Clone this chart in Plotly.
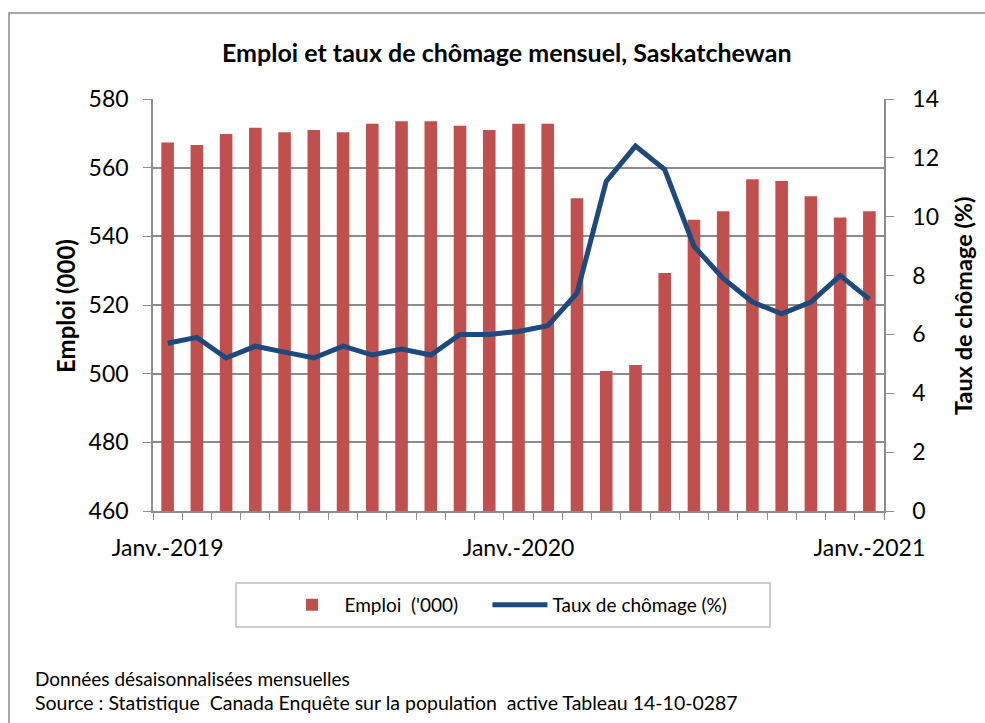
import plotly.graph_objects as go

months = [
    "2019-01", "2019-02", "2019-03", "2019-04", "2019-05", "2019-06", "2019-07",
    "2019-08", "2019-09", "2019-10", "2019-11", "2019-12",
    "2020-01", "2020-02", "2020-03", "2020-04", "2020-05", "2020-06", "2020-07",
    "2020-08", "2020-09", "2020-10", "2020-11", "2020-12",
    "2021-01",
]
emploi = [
    567.3, 566.6, 569.8, 571.6, 570.3, 571.0, 570.3, 572.8, 573.5, 573.5, 572.2, 571.0,
    572.8, 572.8, 551.1, 500.8, 502.5, 529.3, 544.8, 547.3, 556.6, 556.1, 551.7, 545.5,
    547.3,
]
chomage = [
    5.7, 5.9, 5.2, 5.6, 5.4, 5.2, 5.6, 5.3, 5.5, 5.3, 6.0, 6.0,
    6.1, 6.3, 7.4, 11.2, 12.4, 11.6, 9.0, 7.9, 7.1, 6.7, 7.1, 8.0,
    7.2,
]
tick_labels = {"2019-01": "Janv.-2019", "2020-01": "Janv.-2020", "2021-01": "Janv.-2021"}

W, H = 985, 723
L, R, T, B = 153, 884, 99, 511
PW, PH = R - L, B - T


def px(x):
    return (x - L) / PW


def py(y):
    return (B - y) / PH


FONT = "Lato"
GRID = "#8c8c8c"
RED = "#C0504D"
BLUE = "#1F497D"

fig = go.Figure()
fig.add_trace(go.Bar(
    x=months, y=emploi, name="Emploi  ('000)\u00a0\u00a0\u00a0\u00a0\u00a0",
    marker=dict(color=RED, line=dict(width=0)),
    width=0.43, yaxis="y",
))
fig.add_trace(go.Scatter(
    x=months, y=chomage, name="Taux de chômage (%)",
    mode="lines", line=dict(color=BLUE, width=5), yaxis="y2",
))

fig.update_layout(
    width=W, height=H,
    margin=dict(l=L, r=W - R, t=T, b=H - B),
    paper_bgcolor="white", plot_bgcolor="white",
    font=dict(family=FONT, color="black"),
    showlegend=True,
    legend=dict(
        orientation="h", x=px(506), y=py(605), xanchor="center", yanchor="middle",
        font=dict(size=19, family=FONT), bgcolor="rgba(0,0,0,0)",
        itemwidth=55, tracegroupgap=0,
    ),
    xaxis=dict(
        type="category",
        tickmode="array", tickvals=months,
        ticktext=[tick_labels.get(m, "") for m in months],
        tickson="boundaries", ticks="outside", ticklen=7, tickcolor=GRID,
        showline=True, linecolor=GRID, linewidth=1.5,
        showgrid=False, tickfont=dict(size=23, family=FONT),
        ticklabelstandoff=16,
        range=[-0.5, 24.5], tickangle=0,
    ),
    yaxis=dict(
        range=[460, 580], dtick=20, tick0=460,
        ticks="outside", ticklen=8, tickcolor=GRID,
        showline=True, linecolor=GRID, linewidth=1.5,
        showgrid=True, gridcolor=GRID, gridwidth=1.5,
        tickfont=dict(size=23, family=FONT), ticklabelstandoff=10,
        zeroline=False,
    ),
    yaxis2=dict(
        range=[0, 14], dtick=2, tick0=0, overlaying="y", side="right",
        ticks="outside", ticklen=8, tickcolor=GRID,
        showline=True, linecolor=GRID, linewidth=1.5,
        showgrid=False, zeroline=False,
        tickfont=dict(size=23, family=FONT), ticklabelstandoff=14,
    ),
    bargap=0.5,
)

shapes = [
    # outer frame
    dict(type="rect", xref="paper", yref="paper",
         x0=px(9), x1=px(1010), y0=py(13), y1=py(760),
         line=dict(color=GRID, width=1.5), fillcolor="rgba(0,0,0,0)", layer="below"),
    # legend box
    dict(type="rect", xref="paper", yref="paper",
         x0=px(236), x1=px(770), y0=py(583), y1=py(627),
         line=dict(color="#bfbfbf", width=1.5), fillcolor="rgba(0,0,0,0)"),
]
fig.update_layout(shapes=shapes)

annotations = [
    dict(text="<b>Emploi et taux de chômage mensuel, Saskatchewan</b>",
         x=px(506), y=py(52), xref="paper", yref="paper", showarrow=False,
         xanchor="center", yanchor="middle", font=dict(size=25, family=FONT)),
    dict(text="<b>Emploi (000)</b>", textangle=-90,
         x=px(65), y=py(306), xref="paper", yref="paper", showarrow=False,
         xanchor="center", yanchor="middle", font=dict(size=24, family=FONT)),
    dict(text="<b>Taux de chômage (%)</b>", textangle=-90,
         x=px(963), y=py(306), xref="paper", yref="paper", showarrow=False,
         xanchor="center", yanchor="middle", font=dict(size=23.5, family=FONT)),
    dict(text="Données désaisonnalisées mensuelles",
         x=px(33), y=py(678), xref="paper", yref="paper", showarrow=False,
         xanchor="left", yanchor="middle", font=dict(size=19, family=FONT)),
    dict(text="Source : Statistique  Canada Enquête sur la population  active Tableau 14-10-0287",
         x=px(33), y=py(702), xref="paper", yref="paper", showarrow=False,
         xanchor="left", yanchor="middle", font=dict(size=19.5, family=FONT)),
]
fig.update_layout(annotations=annotations)

fig.write_html("out.html")
